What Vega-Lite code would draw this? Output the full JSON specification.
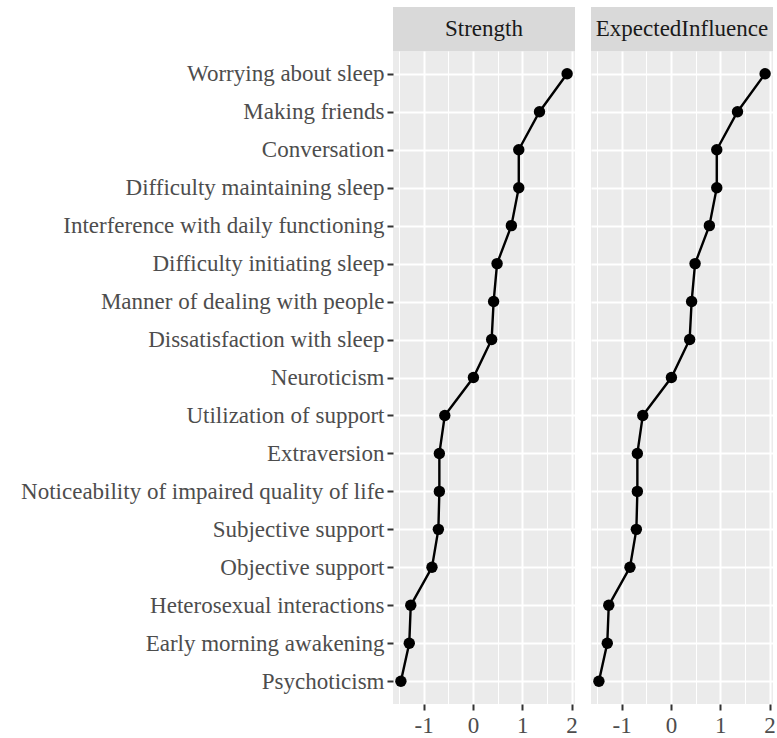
{
  "$schema": "https://vega.github.io/schema/vega-lite/v6.json",
  "padding": {"left": 20, "top": 7, "right": 2, "bottom": 0},
  "background": "white",
  "config": {"font": "Liberation Serif", "concat": {"spacing": 13}},
  "datasets": {
    "cent": [
      {"node": "Worrying about sleep", "rank": 1, "value": 1.91},
      {"node": "Making friends", "rank": 2, "value": 1.35},
      {"node": "Conversation", "rank": 3, "value": 0.93},
      {"node": "Difficulty maintaining sleep", "rank": 4, "value": 0.93},
      {"node": "Interference with daily functioning", "rank": 5, "value": 0.78},
      {"node": "Difficulty initiating sleep", "rank": 6, "value": 0.49},
      {"node": "Manner of dealing with people", "rank": 7, "value": 0.42},
      {"node": "Dissatisfaction with sleep", "rank": 8, "value": 0.38},
      {"node": "Neuroticism", "rank": 9, "value": 0.01},
      {"node": "Utilization of support", "rank": 10, "value": -0.57},
      {"node": "Extraversion", "rank": 11, "value": -0.68},
      {"node": "Noticeability of impaired quality of life", "rank": 12, "value": -0.68},
      {"node": "Subjective support", "rank": 13, "value": -0.70},
      {"node": "Objective support", "rank": 14, "value": -0.83},
      {"node": "Heterosexual interactions", "rank": 15, "value": -1.26},
      {"node": "Early morning awakening", "rank": 16, "value": -1.29},
      {"node": "Psychoticism", "rank": 17, "value": -1.46}
    ]
  },
  "hconcat": [
    {
      "spacing": 0,
      "vconcat": [
        {
          "width": 182, "height": 44,
          "view": {"fill": "#d9d9d9", "stroke": null},
          "data": {"values": [{"panel": "Strength"}]},
          "mark": {"type": "text", "fontSize": 23, "color": "#1a1a1a", "baseline": "middle", "align": "center"},
          "encoding": {"text": {"field": "panel"}}
        },
        {
          "width": 182, "height": 653,
          "view": {"fill": "#ebebeb", "stroke": null},
          "data": {"name": "cent"},
          "layer": [
            {
              "mark": {"type": "line", "color": "black", "strokeWidth": 2.4},
              "encoding": {
                "x": {"field": "value", "type": "quantitative", "scale": {"domain": [-1.62, 2.07], "nice": false, "zero": false},
                  "axis": {"orient": "bottom", "values": [-1.5, -0.5, 0.5, 1.5], "labels": false, "ticks": false, "domain": false, "grid": true, "gridColor": "white", "gridWidth": 1, "title": null}},
                "y": {"field": "node", "type": "nominal", "sort": {"field": "rank"}, "scale": {"type": "point", "padding": 0.6},
                  "axis": {"title": null, "domain": false, "grid": true, "gridColor": "white", "gridWidth": 2, "ticks": true, "tickColor": "#333333", "tickSize": 6, "tickWidth": 2, "labelFontSize": 23, "labelColor": "#4d4d4d", "labelPadding": 3, "labelLimit": 500}},
                "order": {"field": "rank", "type": "quantitative"}
              }
            },
            {
              "mark": {"type": "point", "filled": true, "color": "black", "size": 130, "opacity": 1},
              "encoding": {
                "x": {"field": "value", "type": "quantitative", "scale": {"domain": [-1.62, 2.07], "nice": false, "zero": false},
                  "axis": {"orient": "bottom", "values": [-1, 0, 1, 2], "labelExpr": "'' + datum.value", "domain": false, "grid": true, "gridColor": "white", "gridWidth": 2, "tickColor": "#333333", "tickSize": 6, "tickWidth": 2, "labelFontSize": 23, "labelColor": "#4d4d4d", "labelPadding": 4, "title": null}},
                "y": {"field": "node", "type": "nominal", "sort": {"field": "rank"}, "scale": {"type": "point", "padding": 0.6}}
              }
            }
          ],
          "resolve": {"scale": {"x": "independent"}, "axis": {"x": "independent"}}
        }
      ]
    },
    {
      "spacing": 0,
      "vconcat": [
        {
          "width": 182, "height": 44,
          "view": {"fill": "#d9d9d9", "stroke": null},
          "data": {"values": [{"panel": "ExpectedInfluence"}]},
          "mark": {"type": "text", "fontSize": 23, "color": "#1a1a1a", "baseline": "middle", "align": "center"},
          "encoding": {"text": {"field": "panel"}}
        },
        {
          "width": 182, "height": 653,
          "view": {"fill": "#ebebeb", "stroke": null},
          "data": {"name": "cent"},
          "layer": [
            {
              "mark": {"type": "line", "color": "black", "strokeWidth": 2.4},
              "encoding": {
                "x": {"field": "value", "type": "quantitative", "scale": {"domain": [-1.62, 2.07], "nice": false, "zero": false},
                  "axis": {"orient": "bottom", "values": [-1.5, -0.5, 0.5, 1.5], "labels": false, "ticks": false, "domain": false, "grid": true, "gridColor": "white", "gridWidth": 1, "title": null}},
                "y": {"field": "node", "type": "nominal", "sort": {"field": "rank"}, "scale": {"type": "point", "padding": 0.6},
                  "axis": {"title": null, "domain": false, "grid": true, "gridColor": "white", "gridWidth": 2, "ticks": false, "labels": false}},
                "order": {"field": "rank", "type": "quantitative"}
              }
            },
            {
              "mark": {"type": "point", "filled": true, "color": "black", "size": 130, "opacity": 1},
              "encoding": {
                "x": {"field": "value", "type": "quantitative", "scale": {"domain": [-1.62, 2.07], "nice": false, "zero": false},
                  "axis": {"orient": "bottom", "values": [-1, 0, 1, 2], "labelExpr": "'' + datum.value", "domain": false, "grid": true, "gridColor": "white", "gridWidth": 2, "tickColor": "#333333", "tickSize": 6, "tickWidth": 2, "labelFontSize": 23, "labelColor": "#4d4d4d", "labelPadding": 4, "title": null}},
                "y": {"field": "node", "type": "nominal", "sort": {"field": "rank"}, "scale": {"type": "point", "padding": 0.6}}
              }
            }
          ],
          "resolve": {"scale": {"x": "independent"}, "axis": {"x": "independent"}}
        }
      ]
    }
  ]
}
